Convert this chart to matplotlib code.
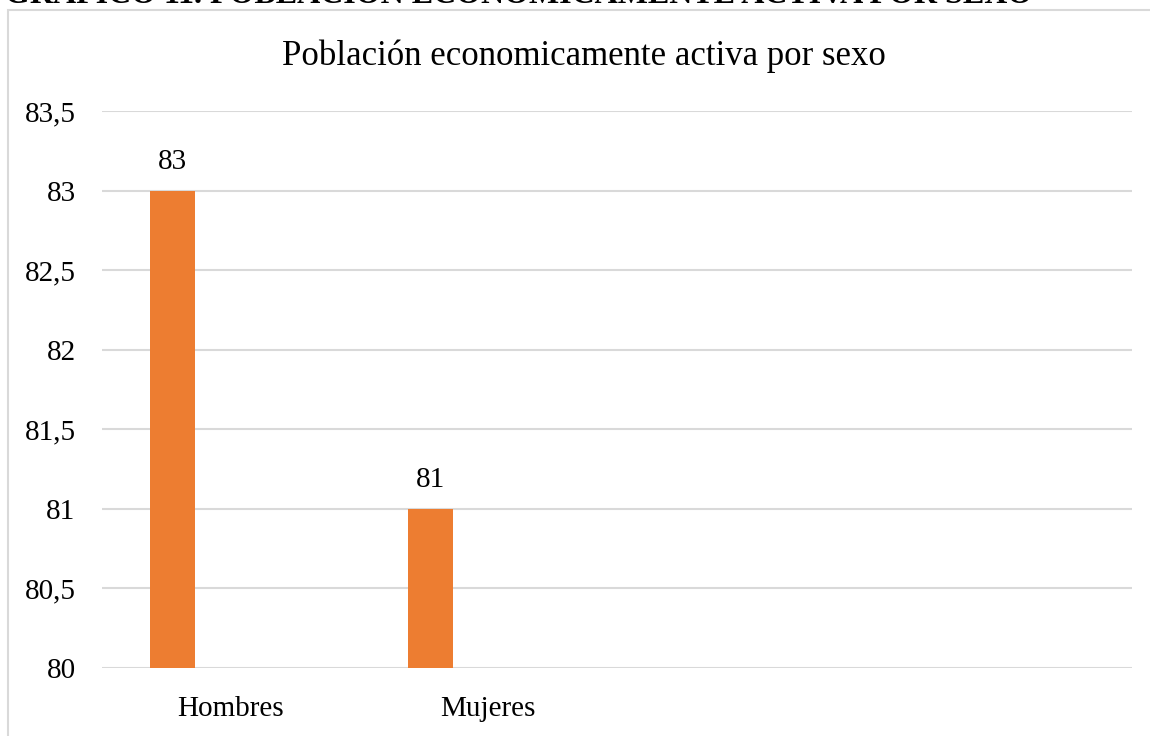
import matplotlib.pyplot as plt
from matplotlib.patches import Rectangle
import numpy as np

categorias = ['Hombres', 'Mujeres', '', '']
valores = [83, 81, None, None]
yticks = [80, 80.5, 81, 81.5, 82, 82.5, 83, 83.5]

plt.rcParams['font.family'] = ['Liberation Serif', 'DejaVu Serif']

fig = plt.figure(figsize=(11.5, 7.36), dpi=100)
ax = fig.add_axes([102/1150, 1-668/736, 1030/1150, (668-111)/736])

# marco del grafico (recortado)
fig.patches.append(Rectangle((8/1150, -0.05), 1.1, 1 + 0.05 - 10/736,
                             transform=fig.transFigure, fill=False,
                             edgecolor='#d9d9d9', linewidth=1.5))

# titulo del documento cortado arriba
fig.text(5/1150, 1-3/736, 'GRÁFICO 11. POBLACIÓN ECONÓMICAMENTE ACTIVA POR SEXO',
         fontsize=23, fontweight='bold', va='baseline', ha='left')

x = np.arange(len(categorias))
for i, v in enumerate(valores):
    if v is None:
        continue
    ax.bar(x[i] - 0.225, v - 80, bottom=80, width=0.175, color='#ED7D31', zorder=3)
    ax.text(x[i] - 0.225, v + 0.1, f'{v}', ha='center', va='bottom', fontsize=21)

ax.set_xlim(-0.5, 3.5)
ax.set_ylim(80, 83.5)
ax.set_yticks(yticks)
ax.set_yticklabels([f'{t:g}'.replace('.', ',') for t in yticks], fontsize=21)
ax.set_xticks(x)
ax.set_xticklabels(categorias, fontsize=21)
ax.tick_params(axis='both', length=0)
ax.tick_params(axis='y', pad=19)
ax.tick_params(axis='x', pad=20)
ax.grid(axis='y', color='#d9d9d9', linewidth=1.5, zorder=0)
ax.set_axisbelow(True)
for s in ax.spines.values():
    s.set_visible(False)

fig.text(584/1150, 1 - 56/736, 'Población economicamente activa por sexo',
         fontsize=25, ha='center', va='center')

fig.savefig('out.png')
